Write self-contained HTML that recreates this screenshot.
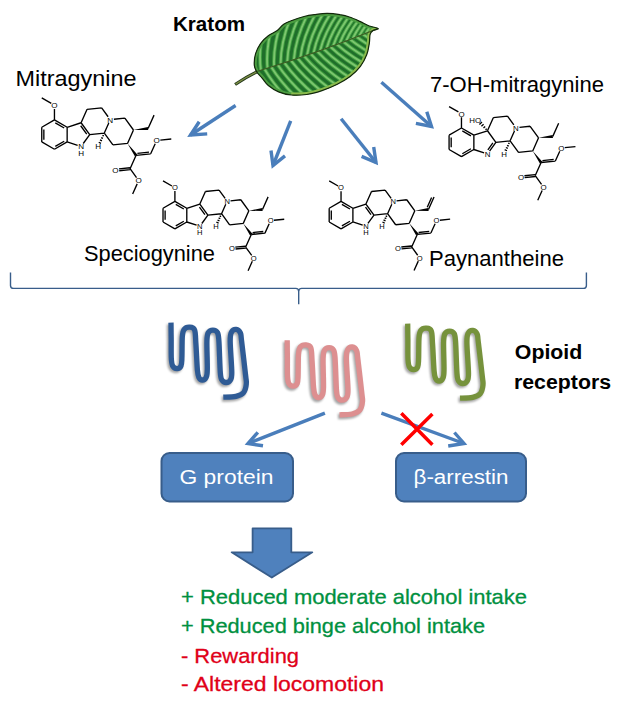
<!DOCTYPE html>
<html><head><meta charset="utf-8"><style>
html,body{margin:0;padding:0;background:#fff;}
svg{display:block;font-family:"Liberation Sans",sans-serif;}
.mol text{font-family:"Liberation Sans",sans-serif;fill:#000;}
</style></head><body>
<svg width="626" height="711" viewBox="0 0 626 711">
<defs>
<filter id="sh" x="-20%" y="-20%" width="140%" height="140%"><feGaussianBlur in="SourceAlpha" stdDeviation="1.2"/><feOffset dx="2" dy="2" result="b"/><feComponentTransfer><feFuncA type="linear" slope="0.45"/></feComponentTransfer><feMerge><feMergeNode/><feMergeNode in="SourceGraphic"/></feMerge></filter>
</defs>
<rect width="626" height="711" fill="#fff"/>
<!-- labels -->
<text x="173" y="30.9" font-size="21" font-weight="bold" fill="#000" textLength="72" lengthAdjust="spacingAndGlyphs">Kratom</text>
<text x="15.5" y="85.6" font-size="21.5" fill="#000" textLength="121" lengthAdjust="spacingAndGlyphs">Mitragynine</text>
<text x="430" y="92.2" font-size="21.5" fill="#000" textLength="174" lengthAdjust="spacingAndGlyphs">7-OH-mitragynine</text>
<text x="84" y="261.3" font-size="21.5" fill="#000" textLength="131" lengthAdjust="spacingAndGlyphs">Speciogynine</text>
<text x="429" y="266.3" font-size="21.5" fill="#000" textLength="135" lengthAdjust="spacingAndGlyphs">Paynantheine</text>
<text x="514.8" y="359.2" font-size="20" font-weight="bold" fill="#000" textLength="67.5" lengthAdjust="spacingAndGlyphs">Opioid</text>
<text x="514" y="389.2" font-size="20" font-weight="bold" fill="#000" textLength="97" lengthAdjust="spacingAndGlyphs">receptors</text>
<!-- brace -->
<path d="M10.5 272.5 L10.5 285.4 Q10.5 288.4 13.5 288.4 L295.7 288.4 Q298.7 288.4 298.7 291.4 L298.7 304.3 M298.7 291.4 Q298.7 288.4 301.7 288.4 L583.4 288.4 Q586.4 288.4 586.4 285.4 L586.4 272.5" stroke="#385D8A" stroke-width="1.4" fill="none"/>
<!-- arrows -->
<g stroke="#4A7EBB" stroke-width="3.4" fill="none" stroke-linecap="butt" stroke-linejoin="miter">
<path d="M235.6 105.5 L190.5 135"/><path d="M199.2 121.8 L190.5 135 L207.2 133.9"/>
<path d="M290.7 120.9 L273 165.5"/><path d="M271 150.6 L273 165.5 L285 155.9"/>
<path d="M341.1 118.7 L376 162.5"/><path d="M373.7 146.9 L376 162.5 L361.6 156.4"/>
<path d="M381.4 82.3 L431.5 126.5"/><path d="M426.8 111.8 L431.5 126.5 L415.9 123.3"/>
<path d="M324.9 413.2 L248 443.5"/><path d="M257.8 432.4 L248 443.5 L263 445.8"/>
<path d="M381.4 413.2 L464 443.5"/><path d="M454.4 432.5 L464 443.5 L448.2 446"/>
</g>
<path d="M401.3 413.2 L432.4 444.8 M432.4 414 L401.3 444.8" stroke="#FF0000" stroke-width="3.5"/>
<!-- boxes -->
<rect x="161.5" y="453" width="131.5" height="48.5" rx="8" fill="#4F81BD" stroke="#385D8A" stroke-width="2"/>
<rect x="396" y="453" width="130" height="48.5" rx="8" fill="#4F81BD" stroke="#385D8A" stroke-width="2"/>
<text x="179.5" y="484.2" font-size="20" fill="#fff" textLength="94" lengthAdjust="spacingAndGlyphs">G protein</text>
<text x="413.5" y="484.3" font-size="20" fill="#fff" textLength="95" lengthAdjust="spacingAndGlyphs">β-arrestin</text>
<!-- big arrow -->
<path d="M252.6 528.4 L291.3 528.4 L291.3 552.3 L312.3 552.3 L271.8 577.6 L231.7 552.3 L252.6 552.3 Z" fill="#4F81BD" stroke="#385D8A" stroke-width="1.8" stroke-linejoin="round"/>
<!-- bottom text -->
<g font-size="21" stroke-width="0.3">
<text x="181" y="604" fill="#009040" stroke="#009040" textLength="346" lengthAdjust="spacingAndGlyphs">+ Reduced moderate alcohol intake</text>
<text x="181" y="632.7" fill="#009040" stroke="#009040" textLength="304" lengthAdjust="spacingAndGlyphs">+ Reduced binge alcohol intake</text>
<text x="181" y="663.3" fill="#E00018" stroke="#E00018" textLength="118" lengthAdjust="spacingAndGlyphs">- Rewarding</text>
<text x="181" y="690.8" fill="#E00018" stroke="#E00018" textLength="203" lengthAdjust="spacingAndGlyphs">- Altered locomotion</text>
</g>
<defs><clipPath id="lc"><path d="M254.3 65.1 C254.1 62.0 254.5 57.2 255.6 53.6 C256.7 50.0 258.6 46.3 260.7 43.3 C262.8 40.3 265.5 37.8 268.3 35.7 C271.1 33.6 274.7 32.5 277.3 30.6 C279.9 28.7 281.1 25.9 283.7 24.2 C286.2 22.5 289.2 21.6 292.6 20.3 C296.0 19.0 300.5 17.4 304.1 16.5 C307.7 15.6 310.5 15.2 314.3 14.7 C318.1 14.2 322.8 13.4 327.1 13.4 C331.4 13.4 336.1 14.0 339.9 14.7 C343.7 15.3 346.7 16.1 350.1 17.3 C353.5 18.5 357.2 20.2 360.4 21.6 C363.6 23.1 366.3 24.9 369.3 26.0 C372.3 27.1 377.6 27.7 378.2 28.5 C378.8 29.3 374.5 29.6 373.1 30.6 C371.8 31.6 370.7 32.3 370.1 34.4 C369.5 36.5 369.9 39.9 369.3 43.3 C368.7 46.7 368.2 51.0 366.7 54.8 C365.2 58.6 363.2 62.7 360.4 66.3 C357.6 69.9 354.0 73.6 350.1 76.6 C346.2 79.6 342.0 81.9 337.3 84.2 C332.6 86.5 327.1 88.9 322.0 90.6 C316.9 92.3 311.8 93.8 306.7 94.5 C301.6 95.2 296.0 95.4 291.3 95.0 C286.6 94.6 282.4 93.5 278.6 91.9 C274.8 90.3 271.1 87.8 268.3 85.5 C265.5 83.2 263.8 80.0 261.9 77.8 C260.0 75.5 258.1 74.1 256.8 72.0 C255.5 69.9 254.5 68.2 254.3 65.1Z"/></clipPath></defs><path d="M235.1 84.5 Q246 77 257.5 71.5" stroke="#22361a" stroke-width="3.2" fill="none"/><path d="M235.6 84.2 Q246 77 257.5 71.5" stroke="#7d8f45" stroke-width="1.4" fill="none"/><path d="M254.3 65.1 C254.1 62.0 254.5 57.2 255.6 53.6 C256.7 50.0 258.6 46.3 260.7 43.3 C262.8 40.3 265.5 37.8 268.3 35.7 C271.1 33.6 274.7 32.5 277.3 30.6 C279.9 28.7 281.1 25.9 283.7 24.2 C286.2 22.5 289.2 21.6 292.6 20.3 C296.0 19.0 300.5 17.4 304.1 16.5 C307.7 15.6 310.5 15.2 314.3 14.7 C318.1 14.2 322.8 13.4 327.1 13.4 C331.4 13.4 336.1 14.0 339.9 14.7 C343.7 15.3 346.7 16.1 350.1 17.3 C353.5 18.5 357.2 20.2 360.4 21.6 C363.6 23.1 366.3 24.9 369.3 26.0 C372.3 27.1 377.6 27.7 378.2 28.5 C378.8 29.3 374.5 29.6 373.1 30.6 C371.8 31.6 370.7 32.3 370.1 34.4 C369.5 36.5 369.9 39.9 369.3 43.3 C368.7 46.7 368.2 51.0 366.7 54.8 C365.2 58.6 363.2 62.7 360.4 66.3 C357.6 69.9 354.0 73.6 350.1 76.6 C346.2 79.6 342.0 81.9 337.3 84.2 C332.6 86.5 327.1 88.9 322.0 90.6 C316.9 92.3 311.8 93.8 306.7 94.5 C301.6 95.2 296.0 95.4 291.3 95.0 C286.6 94.6 282.4 93.5 278.6 91.9 C274.8 90.3 271.1 87.8 268.3 85.5 C265.5 83.2 263.8 80.0 261.9 77.8 C260.0 75.5 258.1 74.1 256.8 72.0 C255.5 69.9 254.5 68.2 254.3 65.1Z" fill="#1f6e2a"/><g clip-path="url(#lc)"><path d="M261.7 70.0Q258.9 50.4 265.2 24.8M268.3 68.0Q266.3 48.3 273.7 22.9M274.9 65.9Q273.8 46.1 282.2 21.1M281.5 63.8Q281.2 44.0 290.7 19.3M288.1 61.6Q288.6 41.8 299.2 17.6M294.7 59.4Q296.1 39.7 307.6 15.9M301.3 57.2Q303.5 37.5 316.1 14.3M307.9 55.0Q310.9 35.4 324.4 12.7M314.4 52.7Q318.3 33.2 332.8 11.2M321.0 50.3Q325.7 31.1 341.1 9.7M327.5 48.0Q333.0 29.0 349.3 8.2M334.1 45.6Q340.4 26.8 357.6 6.8M340.6 43.1Q347.7 24.7 365.7 5.4M347.1 40.7Q355.0 22.5 373.8 4.0M353.7 38.2Q362.3 20.4 381.9 2.7M360.2 35.6Q369.6 18.2 389.9 1.4M366.7 33.1Q376.8 16.0 397.8 0.1M373.2 30.5Q384.0 13.9 405.7 -1.2M265.3 68.9Q275.2 86.0 293.9 104.7M271.9 66.8Q282.3 83.7 301.5 101.8M278.5 64.7Q289.4 81.3 309.1 98.8M285.1 62.6Q296.4 78.8 316.7 95.8M291.7 60.4Q303.5 76.3 324.2 92.7M298.3 58.2Q310.5 73.8 331.7 89.6M304.9 56.0Q317.5 71.2 339.1 86.4M311.4 53.7Q324.5 68.6 346.5 83.1M318.0 51.4Q331.5 65.9 353.9 79.8M324.5 49.1Q338.5 63.1 361.3 76.4M331.1 46.7Q345.4 60.3 368.6 73.0M337.6 44.3Q352.3 57.5 375.8 69.5M344.2 41.8Q359.2 54.6 383.1 66.0M350.7 39.3Q366.1 51.7 390.3 62.4M357.2 36.8Q373.0 48.8 397.4 58.7M363.7 34.2Q379.8 45.8 404.5 55.0M370.2 31.6Q386.7 42.7 411.6 51.3" stroke="#3f9c3f" stroke-width="3.8" fill="none" transform="translate(-0.8 0)"/><path d="M261.7 70.0Q258.9 50.4 265.2 24.8M268.3 68.0Q266.3 48.3 273.7 22.9M274.9 65.9Q273.8 46.1 282.2 21.1M281.5 63.8Q281.2 44.0 290.7 19.3M288.1 61.6Q288.6 41.8 299.2 17.6M294.7 59.4Q296.1 39.7 307.6 15.9M301.3 57.2Q303.5 37.5 316.1 14.3M307.9 55.0Q310.9 35.4 324.4 12.7M314.4 52.7Q318.3 33.2 332.8 11.2M321.0 50.3Q325.7 31.1 341.1 9.7M327.5 48.0Q333.0 29.0 349.3 8.2M334.1 45.6Q340.4 26.8 357.6 6.8M340.6 43.1Q347.7 24.7 365.7 5.4M347.1 40.7Q355.0 22.5 373.8 4.0M353.7 38.2Q362.3 20.4 381.9 2.7M360.2 35.6Q369.6 18.2 389.9 1.4M366.7 33.1Q376.8 16.0 397.8 0.1M373.2 30.5Q384.0 13.9 405.7 -1.2M265.3 68.9Q275.2 86.0 293.9 104.7M271.9 66.8Q282.3 83.7 301.5 101.8M278.5 64.7Q289.4 81.3 309.1 98.8M285.1 62.6Q296.4 78.8 316.7 95.8M291.7 60.4Q303.5 76.3 324.2 92.7M298.3 58.2Q310.5 73.8 331.7 89.6M304.9 56.0Q317.5 71.2 339.1 86.4M311.4 53.7Q324.5 68.6 346.5 83.1M318.0 51.4Q331.5 65.9 353.9 79.8M324.5 49.1Q338.5 63.1 361.3 76.4M331.1 46.7Q345.4 60.3 368.6 73.0M337.6 44.3Q352.3 57.5 375.8 69.5M344.2 41.8Q359.2 54.6 383.1 66.0M350.7 39.3Q366.1 51.7 390.3 62.4M357.2 36.8Q373.0 48.8 397.4 58.7M363.7 34.2Q379.8 45.8 404.5 55.0M370.2 31.6Q386.7 42.7 411.6 51.3" stroke="#7cc66e" stroke-width="1.9" fill="none" transform="translate(-0.8 0)"/><path d="M254.3 65.1 C254.1 62.0 254.5 57.2 255.6 53.6 C256.7 50.0 258.6 46.3 260.7 43.3 C262.8 40.3 265.5 37.8 268.3 35.7 C271.1 33.6 274.7 32.5 277.3 30.6 C279.9 28.7 281.1 25.9 283.7 24.2 C286.2 22.5 289.2 21.6 292.6 20.3 C296.0 19.0 300.5 17.4 304.1 16.5 C307.7 15.6 310.5 15.2 314.3 14.7 C318.1 14.2 322.8 13.4 327.1 13.4 C331.4 13.4 336.1 14.0 339.9 14.7 C343.7 15.3 346.7 16.1 350.1 17.3 C353.5 18.5 357.2 20.2 360.4 21.6 C363.6 23.1 366.3 24.9 369.3 26.0 C372.3 27.1 377.6 27.7 378.2 28.5 C378.8 29.3 374.5 29.6 373.1 30.6 C371.8 31.6 370.7 32.3 370.1 34.4 C369.5 36.5 369.9 39.9 369.3 43.3 C368.7 46.7 368.2 51.0 366.7 54.8 C365.2 58.6 363.2 62.7 360.4 66.3 C357.6 69.9 354.0 73.6 350.1 76.6 C346.2 79.6 342.0 81.9 337.3 84.2 C332.6 86.5 327.1 88.9 322.0 90.6 C316.9 92.3 311.8 93.8 306.7 94.5 C301.6 95.2 296.0 95.4 291.3 95.0 C286.6 94.6 282.4 93.5 278.6 91.9 C274.8 90.3 271.1 87.8 268.3 85.5 C265.5 83.2 263.8 80.0 261.9 77.8 C260.0 75.5 258.1 74.1 256.8 72.0 C255.5 69.9 254.5 68.2 254.3 65.1Z" fill="none" stroke="#4a9c40" stroke-width="5"/><path d="M378.2 28.5 C377.4 28.9 374.5 29.6 373.1 30.6 C371.8 31.6 370.7 32.3 370.1 34.4 C369.5 36.5 369.9 39.9 369.3 43.3 C368.7 46.7 368.2 51.0 366.7 54.8 C365.2 58.6 363.2 62.7 360.4 66.3 C357.6 69.9 354.0 73.6 350.1 76.6 C346.2 79.6 342.0 81.9 337.3 84.2 C332.6 86.5 327.1 88.9 322.0 90.6 C316.9 92.3 311.8 93.8 306.7 94.5 C301.6 95.2 293.9 94.9 291.3 95.0" stroke="#8abb4c" stroke-width="5" fill="none"/></g><path d="M256.8 71.5 Q318 53 378 28.5" stroke="#3d5a22" stroke-width="1.2" fill="none"/><path d="M254.3 65.1 C254.1 62.0 254.5 57.2 255.6 53.6 C256.7 50.0 258.6 46.3 260.7 43.3 C262.8 40.3 265.5 37.8 268.3 35.7 C271.1 33.6 274.7 32.5 277.3 30.6 C279.9 28.7 281.1 25.9 283.7 24.2 C286.2 22.5 289.2 21.6 292.6 20.3 C296.0 19.0 300.5 17.4 304.1 16.5 C307.7 15.6 310.5 15.2 314.3 14.7 C318.1 14.2 322.8 13.4 327.1 13.4 C331.4 13.4 336.1 14.0 339.9 14.7 C343.7 15.3 346.7 16.1 350.1 17.3 C353.5 18.5 357.2 20.2 360.4 21.6 C363.6 23.1 366.3 24.9 369.3 26.0 C372.3 27.1 377.6 27.7 378.2 28.5 C378.8 29.3 374.5 29.6 373.1 30.6 C371.8 31.6 370.7 32.3 370.1 34.4 C369.5 36.5 369.9 39.9 369.3 43.3 C368.7 46.7 368.2 51.0 366.7 54.8 C365.2 58.6 363.2 62.7 360.4 66.3 C357.6 69.9 354.0 73.6 350.1 76.6 C346.2 79.6 342.0 81.9 337.3 84.2 C332.6 86.5 327.1 88.9 322.0 90.6 C316.9 92.3 311.8 93.8 306.7 94.5 C301.6 95.2 296.0 95.4 291.3 95.0 C286.6 94.6 282.4 93.5 278.6 91.9 C274.8 90.3 271.1 87.8 268.3 85.5 C265.5 83.2 263.8 80.0 261.9 77.8 C260.0 75.5 258.1 74.1 256.8 72.0 C255.5 69.9 254.5 68.2 254.3 65.1Z" fill="none" stroke="#13290c" stroke-width="1.2"/>
<defs><path id="rp" d="M171.0 322.6 C171.0 325.5 171.1 334.1 171.2 340.0 C171.2 345.9 171.1 353.7 171.3 358.0 C171.5 362.3 171.7 364.0 172.6 365.8 C173.5 367.6 175.6 368.6 177.0 368.6 C178.4 368.6 180.2 367.6 181.0 365.8 C181.8 364.0 181.7 362.8 181.9 358.0 C182.1 353.2 182.0 341.7 182.3 337.0 C182.7 332.3 182.8 331.2 184.0 329.6 C185.2 328.0 187.7 327.1 189.5 327.2 C191.3 327.3 193.5 327.2 194.6 330.0 C195.7 332.8 195.4 337.1 195.9 343.8 C196.4 350.5 196.9 364.4 197.4 370.0 C197.9 375.6 198.2 375.9 199.0 377.6 C199.8 379.3 201.2 380.0 202.4 380.0 C203.6 380.0 205.2 379.3 206.0 377.6 C206.8 375.9 207.2 375.7 207.3 369.6 C207.5 363.5 206.7 347.2 206.9 341.0 C207.1 334.8 207.3 334.4 208.3 332.6 C209.3 330.8 211.4 330.1 212.9 330.1 C214.4 330.1 216.5 330.8 217.5 332.6 C218.5 334.4 218.4 334.4 218.9 341.0 C219.4 347.6 219.8 366.0 220.3 372.5 C220.8 379.0 221.0 378.5 222.0 380.2 C223.0 381.9 224.7 382.5 226.1 382.5 C227.5 382.5 229.4 381.9 230.3 380.2 C231.2 378.5 231.8 379.0 231.8 372.5 C231.8 366.0 230.2 347.8 230.2 341.0 C230.2 334.2 230.6 333.9 231.6 332.0 C232.6 330.1 234.7 329.2 236.2 329.4 C237.7 329.6 239.5 331.1 240.4 333.0 C241.3 334.9 240.7 333.9 241.6 341.0 C242.5 348.1 244.8 368.2 245.6 375.4 C246.4 382.6 246.6 381.1 246.3 384.0 C246.0 386.9 245.3 390.5 243.6 392.6 C241.9 394.7 239.4 395.6 236.0 396.4 C232.6 397.2 225.4 397.1 223.3 397.2"/><filter id="rsh" x="-30%" y="-30%" width="160%" height="160%"><feGaussianBlur stdDeviation="1.3"/></filter></defs><g transform="translate(0.0 0.0)"><use href="#rp" transform="translate(-1.5 1.8)" stroke="#000" stroke-opacity="0.35" stroke-width="5.5" fill="none" filter="url(#rsh)"/><use href="#rp" stroke="#2F5B95" stroke-width="5.3" fill="none"/></g><g transform="translate(116.2 17.6)"><use href="#rp" transform="translate(-1.5 1.8)" stroke="#000" stroke-opacity="0.35" stroke-width="5.5" fill="none" filter="url(#rsh)"/><use href="#rp" stroke="#DD8F90" stroke-width="5.3" fill="none"/></g><g transform="translate(236.7 1.0)"><use href="#rp" transform="translate(-1.5 1.8)" stroke="#000" stroke-opacity="0.35" stroke-width="5.5" fill="none" filter="url(#rsh)"/><use href="#rp" stroke="#76923C" stroke-width="5.3" fill="none"/></g>
<g class="mol"><path d="M54.45 119.94L67.15 127.27M55.30 122.86L64.20 127.99M67.15 127.27L67.15 141.94M67.15 141.94L54.45 149.27M64.20 141.22L55.30 146.35M54.45 149.27L41.75 141.94M41.75 141.94L41.75 127.27M43.85 139.74L43.85 129.47M41.75 127.27L54.45 119.94M54.45 119.94L54.45 108.91M51.30 103.45L41.75 97.94M67.15 127.27L81.10 122.74M81.10 122.74L89.72 134.60M80.69 125.75L86.73 134.06M89.72 134.60L83.24 143.52M77.64 145.35L67.15 141.94M81.10 122.74L87.07 109.34M87.07 109.34L101.65 107.81M101.65 107.81L108.13 116.73M108.79 123.00L104.31 133.07M104.31 133.07L89.72 134.60M113.89 119.29L124.86 118.14M124.86 118.14L133.48 130.01M133.48 130.01L127.51 143.40M127.51 143.40L112.93 144.94M112.93 144.94L104.31 133.07M102.44 135.30L103.85 135.94M101.21 137.62L102.91 138.39M99.98 139.94L101.97 140.85M98.74 142.26L101.02 143.30M148.07 128.50L154.06 115.11M136.09 155.30L150.68 153.82M137.40 153.36L149.01 152.18M150.68 153.82L155.20 143.76M160.32 140.07L171.29 138.96M136.09 155.30L130.08 168.68M130.18 169.62L119.21 170.74M129.98 167.73L119.02 168.85M130.08 168.68L136.53 177.62M137.17 183.89L132.65 193.95" stroke="#000" stroke-width="1.35" fill="none"/><path d="M133.48 130.01L148.22 129.99L147.91 127.01ZM127.51 143.40L134.88 156.18L137.31 154.42Z" fill="#000"/><text x="54.45" y="108.19" font-size="8.09" text-anchor="middle">O</text><text x="156.70" y="143.35" font-size="8.09" text-anchor="middle">O</text><text x="115.49" y="173.07" font-size="8.09" text-anchor="middle">O</text><text x="138.66" y="183.49" font-size="8.09" text-anchor="middle">O</text><text x="110.27" y="122.59" font-size="8.09" text-anchor="middle">N</text><text x="98.22" y="149.33" font-size="8.09" text-anchor="middle">H</text><text x="81.10" y="149.38" font-size="8.09" text-anchor="middle">N</text><text x="81.10" y="155.86" font-size="8.09" text-anchor="middle">H</text></g><g class="mol"><path d="M174.90 201.42L186.79 208.28M175.76 204.34L183.83 209.00M186.79 208.28L186.79 222.01M186.79 222.01L174.90 228.87M183.83 221.29L175.76 225.95M174.90 228.87L163.02 222.01M163.02 222.01L163.02 208.28M165.12 219.81L165.12 210.48M163.02 208.28L174.90 201.42M174.90 201.42L174.90 191.10M171.95 185.99L163.02 180.83M186.79 208.28L199.84 204.04M199.84 204.04L207.91 215.14M199.43 207.05L204.92 214.60M207.91 215.14L201.84 223.49M196.60 225.19L186.79 222.01M199.84 204.04L205.42 191.50M205.42 191.50L219.07 190.07M219.07 190.07L225.14 198.41M225.75 204.28L221.56 213.71M221.56 213.71L207.91 215.14M230.53 200.82L240.79 199.74M240.79 199.74L248.85 210.84M248.85 210.84L243.27 223.38M243.27 223.38L229.62 224.81M229.62 224.81L221.56 213.71M219.68 215.93L221.11 216.58M218.59 217.97L220.29 218.74M217.49 220.01L219.47 220.91M216.40 222.04L218.65 223.07M262.51 209.43L268.11 196.90M251.30 234.51L264.95 233.12M252.61 232.57L263.28 231.48M264.95 233.12L269.18 223.71M273.97 220.26L284.23 219.22M251.30 234.51L245.67 247.03M245.77 247.97L235.51 249.01M245.58 246.08L235.31 247.12M245.67 247.03L251.71 255.39M252.31 261.27L248.08 270.68" stroke="#000" stroke-width="1.35" fill="none"/><path d="M248.85 210.84L262.66 210.92L262.35 207.94ZM243.27 223.38L250.08 235.39L252.52 233.63Z" fill="#000"/><text x="174.90" y="190.42" font-size="7.57" text-anchor="middle">O</text><text x="270.58" y="223.33" font-size="7.57" text-anchor="middle">O</text><text x="232.02" y="251.14" font-size="7.57" text-anchor="middle">O</text><text x="253.70" y="260.88" font-size="7.57" text-anchor="middle">O</text><text x="227.14" y="203.90" font-size="7.57" text-anchor="middle">N</text><text x="215.86" y="228.92" font-size="7.57" text-anchor="middle">H</text><text x="199.84" y="228.97" font-size="7.57" text-anchor="middle">N</text><text x="199.84" y="235.03" font-size="7.57" text-anchor="middle">H</text></g><g class="mol"><path d="M461.47 128.03L473.86 135.19M462.33 130.95L470.91 135.91M473.86 135.19L473.86 149.49M473.86 149.49L461.47 156.65M470.91 148.78L462.33 153.73M461.47 156.65L449.08 149.49M449.08 149.49L449.08 135.19M451.18 147.29L451.18 137.39M449.08 135.19L461.47 128.03M461.47 128.03L461.47 117.28M458.40 111.95L449.08 106.57M473.86 135.19L487.47 130.77M487.47 130.77L495.88 142.34M495.88 142.34L489.56 151.04M492.89 142.89L487.86 149.81M486.74 128.73L485.52 129.83M485.16 126.52L483.49 128.03M483.58 124.31L481.45 126.22M481.99 122.10L479.42 124.41M484.09 152.82L473.86 149.49M487.47 130.77L493.29 117.70M493.29 117.70L507.52 116.20M507.52 116.20L513.84 124.90M514.48 131.02L510.11 140.85M510.11 140.85L495.88 142.34M519.46 127.40L530.15 126.28M530.15 126.28L538.56 137.85M538.56 137.85L532.74 150.92M532.74 150.92L518.52 152.42M518.52 152.42L510.11 140.85M508.24 143.07L509.65 143.72M507.06 145.28L508.76 146.06M505.88 147.50L507.86 148.40M504.70 149.71L506.97 150.74M552.79 136.38L558.64 123.32M541.11 162.53L555.35 161.08M542.42 160.59L553.67 159.44M555.35 161.08L559.76 151.27M564.75 147.67L575.45 146.59M541.11 162.53L535.25 175.58M535.34 176.52L524.64 177.61M535.15 174.63L524.45 175.72M535.25 175.58L541.54 184.30M542.16 190.42L537.75 200.23" stroke="#000" stroke-width="1.35" fill="none"/><path d="M538.56 137.85L552.95 137.88L552.64 134.89ZM532.74 150.92L539.90 163.41L542.33 161.65Z" fill="#000"/><text x="461.47" y="116.57" font-size="7.89" text-anchor="middle">O</text><text x="561.21" y="150.87" font-size="7.89" text-anchor="middle">O</text><text x="521.01" y="179.87" font-size="7.89" text-anchor="middle">O</text><text x="543.62" y="190.02" font-size="7.89" text-anchor="middle">O</text><text x="515.93" y="130.62" font-size="7.89" text-anchor="middle">N</text><text x="504.17" y="156.71" font-size="7.89" text-anchor="middle">H</text><text x="487.47" y="156.76" font-size="7.89" text-anchor="middle">N</text><text x="475.13" y="122.98" font-size="7.89" text-anchor="middle">HO</text></g><g class="mol"><path d="M341.04 201.42L352.90 208.27M341.90 204.34L349.95 208.99M352.90 208.27L352.90 221.96M352.90 221.96L341.04 228.81M349.95 221.24L341.90 225.89M341.04 228.81L329.19 221.96M329.19 221.96L329.19 208.27M331.29 219.76L331.29 210.47M329.19 208.27L341.04 201.42M341.04 201.42L341.04 191.13M338.10 186.03L329.19 180.88M352.90 208.27L365.93 204.04M365.93 204.04L373.98 215.11M365.52 207.05L370.98 214.57M373.98 215.11L367.92 223.44M362.69 225.14L352.90 221.96M365.93 204.04L371.50 191.53M371.50 191.53L385.11 190.09M385.11 190.09L391.16 198.42M391.78 204.28L387.59 213.68M387.59 213.68L373.98 215.11M396.54 200.82L406.78 199.74M406.78 199.74L414.83 210.82M414.83 210.82L409.26 223.33M409.26 223.33L395.64 224.76M395.64 224.76L387.59 213.68M385.72 215.90L387.15 216.56M384.63 217.93L386.33 218.71M383.54 219.96L385.52 220.86M382.45 221.99L384.70 223.02M428.45 209.41L434.04 196.91M427.24 207.23L431.60 197.46M417.27 234.44L430.89 233.05M418.58 232.49L429.22 231.41M430.89 233.05L435.11 223.66M439.89 220.22L450.13 219.18M417.27 234.44L411.66 246.93M411.75 247.87L401.51 248.91M411.56 245.98L401.32 247.02M411.66 246.93L417.68 255.27M418.27 261.13L414.05 270.52" stroke="#000" stroke-width="1.35" fill="none"/><path d="M414.83 210.82L428.61 210.90L428.30 207.92ZM409.26 223.33L416.05 235.31L418.49 233.56Z" fill="#000"/><text x="341.04" y="190.45" font-size="7.55" text-anchor="middle">O</text><text x="436.51" y="223.28" font-size="7.55" text-anchor="middle">O</text><text x="398.03" y="251.03" font-size="7.55" text-anchor="middle">O</text><text x="419.67" y="260.75" font-size="7.55" text-anchor="middle">O</text><text x="393.16" y="203.89" font-size="7.55" text-anchor="middle">N</text><text x="381.92" y="228.86" font-size="7.55" text-anchor="middle">H</text><text x="365.93" y="228.91" font-size="7.55" text-anchor="middle">N</text><text x="365.93" y="234.96" font-size="7.55" text-anchor="middle">H</text></g>
</svg>
</body></html>
